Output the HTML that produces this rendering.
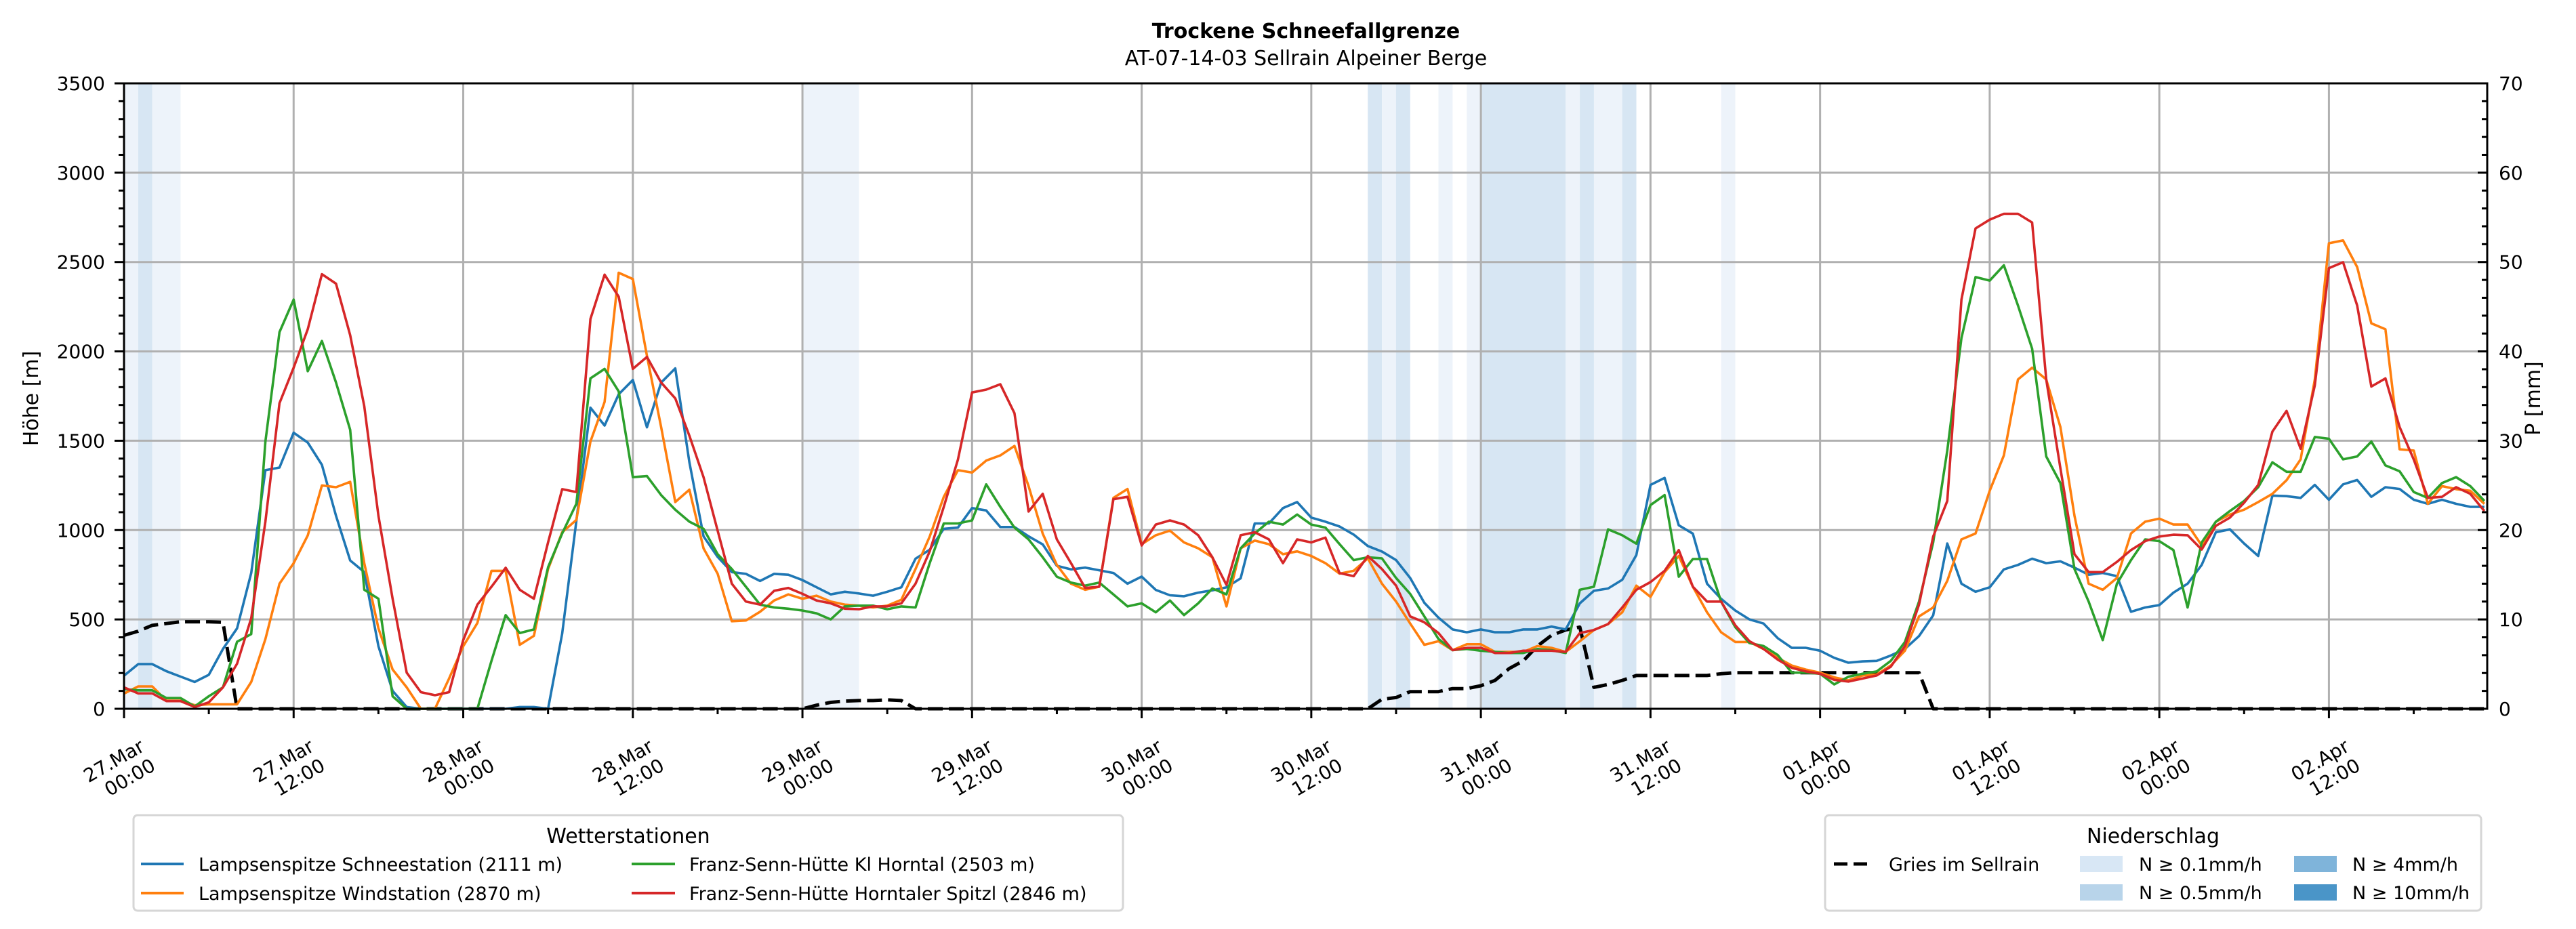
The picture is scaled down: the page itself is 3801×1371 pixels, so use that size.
<!DOCTYPE html>
<html><head><meta charset="utf-8">
<style>
html,body{margin:0;padding:0;background:#fff;}
svg{display:block;font-family:"DejaVu Sans","Liberation Sans",sans-serif;}
</style></head>
<body>
<svg id="chart" width="3801" height="1371" viewBox="0 0 3801 1371" xmlns="http://www.w3.org/2000/svg">
<rect width="3801" height="1371" fill="#fff"/>
<text x="1927" y="56" font-size="30" font-weight="bold" text-anchor="middle">Trockene Schneefallgrenze</text>
<text x="1927" y="96" font-size="30" text-anchor="middle">AT-07-14-03 Sellrain Alpeiner Berge</text>
<g id="bands"></g>
<g id="grid"></g>
<g id="series"></g>
<g id="axes"></g>
<text transform="translate(56,588) rotate(-90)" font-size="30" text-anchor="middle">Höhe [m]</text>
<text transform="translate(3748,588) rotate(-90)" font-size="30" text-anchor="middle">P [mm]</text>

<g>
<rect x="197" y="1203" width="1460" height="141" rx="6" fill="#fff" stroke="#d6d6d6" stroke-width="3"/>
<text x="927" y="1244" font-size="30" text-anchor="middle">Wetterstationen</text>
<line x1="208" y1="1275" x2="271" y2="1275" stroke="#1f77b4" stroke-width="4"/>
<text x="293" y="1285" font-size="27">Lampsenspitze Schneestation (2111 m)</text>
<line x1="208" y1="1318" x2="271" y2="1318" stroke="#ff7f0e" stroke-width="4"/>
<text x="293" y="1328" font-size="27">Lampsenspitze Windstation (2870 m)</text>
<line x1="932" y1="1275" x2="996" y2="1275" stroke="#2ca02c" stroke-width="4"/>
<text x="1017" y="1285" font-size="27">Franz-Senn-Hütte Kl Horntal (2503 m)</text>
<line x1="932" y1="1318" x2="996" y2="1318" stroke="#d62728" stroke-width="4"/>
<text x="1017" y="1328" font-size="27">Franz-Senn-Hütte Horntaler Spitzl (2846 m)</text>
</g>

<g>
<rect x="2693" y="1203" width="968" height="141" rx="6" fill="#fff" stroke="#d6d6d6" stroke-width="3"/>
<text x="3177" y="1244" font-size="30" text-anchor="middle">Niederschlag</text>
<line x1="2706" y1="1275" x2="2762" y2="1275" stroke="#000" stroke-width="5" stroke-dasharray="20 9"/>
<text x="2787" y="1285" font-size="27">Gries im Sellrain</text>
<rect x="3069" y="1263" width="63" height="24" fill="#d8e7f5"/>
<text x="3156" y="1285" font-size="27">N ≥ 0.1mm/h</text>
<rect x="3069" y="1305" width="63" height="24" fill="#b8d4ea"/>
<text x="3156" y="1327" font-size="27">N ≥ 0.5mm/h</text>
<rect x="3385" y="1263" width="63" height="24" fill="#7fb4da"/>
<text x="3471" y="1285" font-size="27">N ≥ 4mm/h</text>
<rect x="3385" y="1305" width="63" height="24" fill="#4a95c8"/>
<text x="3471" y="1327" font-size="27">N ≥ 10mm/h</text>
</g>
</svg>
<script>
const lampsenSchnee = [185,250,250,210,180,150,190,335,450,760,
1335,1350,1545,1490,1365,1080,830,765,350,100,
10,0,0,0,0,0,0,0,10,10,
0,420,1050,1685,1585,1760,1840,1575,1825,1905,
1380,965,850,765,755,715,755,750,720,680,
640,655,645,633,655,680,840,890,1007,1014,
1123,1110,1017,1017,965,920,800,780,790,775,
760,700,740,665,635,630,650,663,680,730,
1037,1037,1123,1157,1070,1047,1020,975,911,880,
832,732,593,510,444,428,444,428,428,444,
444,460,444,590,660,673,722,860,1253,1292,
1027,980,700,615,550,500,477,395,341,341,
325,285,258,265,268,298,335,407,523,925,
700,655,680,780,805,840,815,825,790,750,
760,742,543,567,580,650,700,805,988,1004,
925,855,1193,1190,1180,1253,1170,1256,1280,1186,
1240,1230,1170,1147,1170,1147,1130,1130];
const lampsenWind = [85,125,125,45,45,20,25,25,25,150,
390,700,815,970,1250,1240,1270,815,450,220,
120,0,0,170,350,480,772,772,358,408,
782,988,1057,1495,1717,2440,2405,1975,1577,1157,
1226,898,756,490,494,543,606,640,616,633,
600,583,577,567,577,610,782,964,1186,1335,
1322,1389,1418,1471,1246,980,805,700,666,683,
1180,1230,921,971,997,931,898,848,573,898,
941,921,865,881,855,815,756,772,842,700,
600,477,358,378,328,361,361,318,318,318,
351,341,318,378,441,474,540,689,626,765,
855,683,540,428,374,374,335,285,242,219,
202,176,159,186,192,242,325,517,567,716,
948,981,1220,1418,1843,1909,1843,1577,1080,700,
666,732,981,1047,1064,1031,1031,914,1047,1087,
1114,1157,1203,1279,1396,1843,2605,2621,2472,2157,
2124,1452,1445,1147,1246,1229,1220,1147];
const klHorntal = [110,103,103,60,60,13,70,120,375,418,
1495,2108,2290,1889,2058,1826,1561,666,616,70,
0,0,0,0,0,0,268,524,424,444,
792,981,1147,1849,1902,1776,1296,1302,1196,1114,
1047,1007,865,782,683,583,567,560,550,534,
500,573,577,577,557,573,567,815,1037,1037,
1054,1256,1130,1014,948,848,739,706,689,706,
640,573,590,540,606,524,590,673,640,898,
981,1047,1031,1087,1031,1014,921,832,848,842,
732,643,517,391,328,335,325,318,312,312,
335,328,312,666,683,1004,971,924,1140,1196,
739,838,838,600,457,368,351,301,202,202,
196,136,179,196,209,268,374,600,931,1445,
2075,2416,2396,2482,2257,2015,1412,1263,782,600,
384,700,832,948,938,888,567,931,1047,1107,
1163,1240,1379,1326,1326,1521,1511,1396,1412,1495,
1362,1329,1213,1180,1263,1296,1246,1163];
const horntalerSpitzl = [120,86,86,43,43,10,36,120,252,507,
1047,1710,1909,2124,2432,2379,2091,1693,1080,616,
202,93,76,93,384,583,683,789,666,616,
931,1229,1213,2181,2429,2306,1902,1969,1826,1737,
1528,1296,997,700,600,583,660,676,643,606,
590,560,557,573,573,590,700,881,1130,1395,
1770,1786,1816,1654,1104,1203,948,815,676,683,
1173,1186,914,1031,1054,1031,971,848,693,971,
988,948,815,948,931,958,759,742,855,782,
689,517,484,424,328,341,341,312,312,325,
325,325,318,424,441,474,567,666,709,772,
888,683,600,600,467,378,335,275,229,209,
196,162,152,169,186,235,351,583,964,1163,
2290,2688,2737,2770,2770,2721,1843,1346,865,765,
765,822,888,938,964,974,971,891,1024,1070,
1153,1253,1551,1667,1455,1810,2466,2499,2257,1803,
1849,1577,1395,1180,1186,1240,1203,1107];
const gries = [411,434,467,477,487,487,487,484,0,0,
0,0,0,0,0,0,0,0,0,0,
0,0,0,0,0,0,0,0,0,0,
0,0,0,0,0,0,0,0,0,0,
0,0,0,0,0,0,0,0,0,20,
36,43,46,46,50,46,0,0,0,0,
0,0,0,0,0,0,0,0,0,0,
0,0,0,0,0,0,0,0,0,0,
0,0,0,0,0,0,0,0,0,53,
63,96,96,96,113,113,129,159,225,268,
351,411,441,457,120,136,159,186,186,186,
186,186,186,196,202,202,202,202,202,202,
202,202,202,202,202,202,202,202,0,0,
0,0,0,0,0,0,0,0,0,0,
0,0,0,0,0,0,0,0,0,0,
0,0,0,0,0,0,0,0,0,0,
0,0,0,0,0,0,0,0];
const bandStart = [0,1,2,48,88,89,90,93,95,96,102,103,104,106,113];
const bandEnd   = [1,2,4,52,89,90,91,94,96,102,103,104,106,107,114];
const bandLevel = [1,2,1,1,2,1,2,1,1,2,1,2,1,2,1];
const yTicks = [0,500,1000,1500,2000,2500,3000,3500];
const y2Ticks = [0,10,20,30,40,50,60,70];
const xTickDays = ["27.Mar","27.Mar","28.Mar","28.Mar","29.Mar","29.Mar","30.Mar","30.Mar","31.Mar","31.Mar","01.Apr","01.Apr","02.Apr","02.Apr"];
const xTickTimes = ["00:00","12:00","00:00","12:00","00:00","12:00","00:00","12:00","00:00","12:00","00:00","12:00","00:00","12:00"];

const L=183,R=3670,T=123,B=1046,HMAX=167.2,YMAX=3500,Y2MAX=70;
const NS='http://www.w3.org/2000/svg';
function xs(h){return L+(R-L)*h/HMAX;}
function ys(v){return B-(B-T)*v/YMAX;}
function y2s(v){return B-(B-T)*v/Y2MAX;}
function mk(tag,attrs,parent){const e=document.createElementNS(NS,tag);for(const k in attrs)e.setAttribute(k,attrs[k]);parent.appendChild(e);return e;}

const bandsG=document.getElementById('bands');
const bandColors=['#fff','#edf3fa','#d7e6f3'];
for(let i=0;i<bandStart.length;i++){
  const r=mk('rect',{x:xs(bandStart[i]),y:T,width:xs(bandEnd[i])-xs(bandStart[i]),height:B-T,fill:bandColors[bandLevel[i]]},bandsG);
  
  
}
const gridG=document.getElementById('grid');
for(const v of yTicks){
  const g=mk('line',{x1:L,x2:R,y1:ys(v),y2:ys(v),stroke:'#b0b0b0','stroke-width':3},gridG);
  
  
}
for(let i=0;i<xTickDays.length;i++){
  const g=mk('line',{x1:xs(i*12),x2:xs(i*12),y1:T,y2:B,stroke:'#b0b0b0','stroke-width':3},gridG);
  
  
}
const serG=document.getElementById('series');
function line(arr,color,name,dash){
  const pts=arr.map((v,i)=>xs(i).toFixed(1)+','+ys(v).toFixed(1)).join(' ');
  const p=mk('polyline',{points:pts,fill:'none',stroke:color,'stroke-width':dash?5:3.6,'stroke-linejoin':'round'},serG);
  if(dash)p.setAttribute('stroke-dasharray','22 9');
  
  
}
line(gries,'#000','gries-dashed-line',true);
line(lampsenSchnee,'#1f77b4','lampsen-schnee-line');
line(lampsenWind,'#ff7f0e','lampsen-wind-line');
line(klHorntal,'#2ca02c','kl-horntal-line');
line(horntalerSpitzl,'#d62728','horntaler-spitzl-line');

const ax=document.getElementById('axes');
const frame=mk('rect',{x:L,y:T,width:R-L,height:B-T,fill:'none',stroke:'#000','stroke-width':3},ax);


for(let v=0;v<=YMAX;v+=100){
  const major=v%500===0;
  mk('line',{x1:L-(major?14:8),x2:L,y1:ys(v),y2:ys(v),stroke:'#000','stroke-width':3},ax);
}
for(const v of yTicks){
  const t=mk('text',{x:L-28,y:ys(v)+10,'font-size':28,'text-anchor':'end'},ax);
  t.textContent=v;
  
  
}
for(let v=0;v<=Y2MAX;v+=2){
  const major=v%10===0;
  mk('line',{x1:R-(major?14:8),x2:R,y1:y2s(v),y2:y2s(v),stroke:'#000','stroke-width':3},ax);
}
for(const v of y2Ticks){
  const t=mk('text',{x:R+17,y:y2s(v)+10,'font-size':28,'text-anchor':'start'},ax);
  t.textContent=v;
  
  
}
for(let h=0;h<=HMAX;h+=6){
  const major=h%12===0;
  mk('line',{x1:xs(h),x2:xs(h),y1:B,y2:B+(major?14:8),stroke:'#000','stroke-width':3},ax);
}
for(let i=0;i<xTickDays.length;i++){
  const x=xs(i*12);
  const t=mk('text',{transform:'translate('+(x+32)+',1107) rotate(-30)','font-size':28,'text-anchor':'end'},ax);
  
  
  const s1=mk('tspan',{x:0,dy:0},t);s1.textContent=xTickDays[i];
  const s2=mk('tspan',{x:0,dy:'1.17em'},t);s2.textContent=xTickTimes[i];
}
</script>
</body></html>
